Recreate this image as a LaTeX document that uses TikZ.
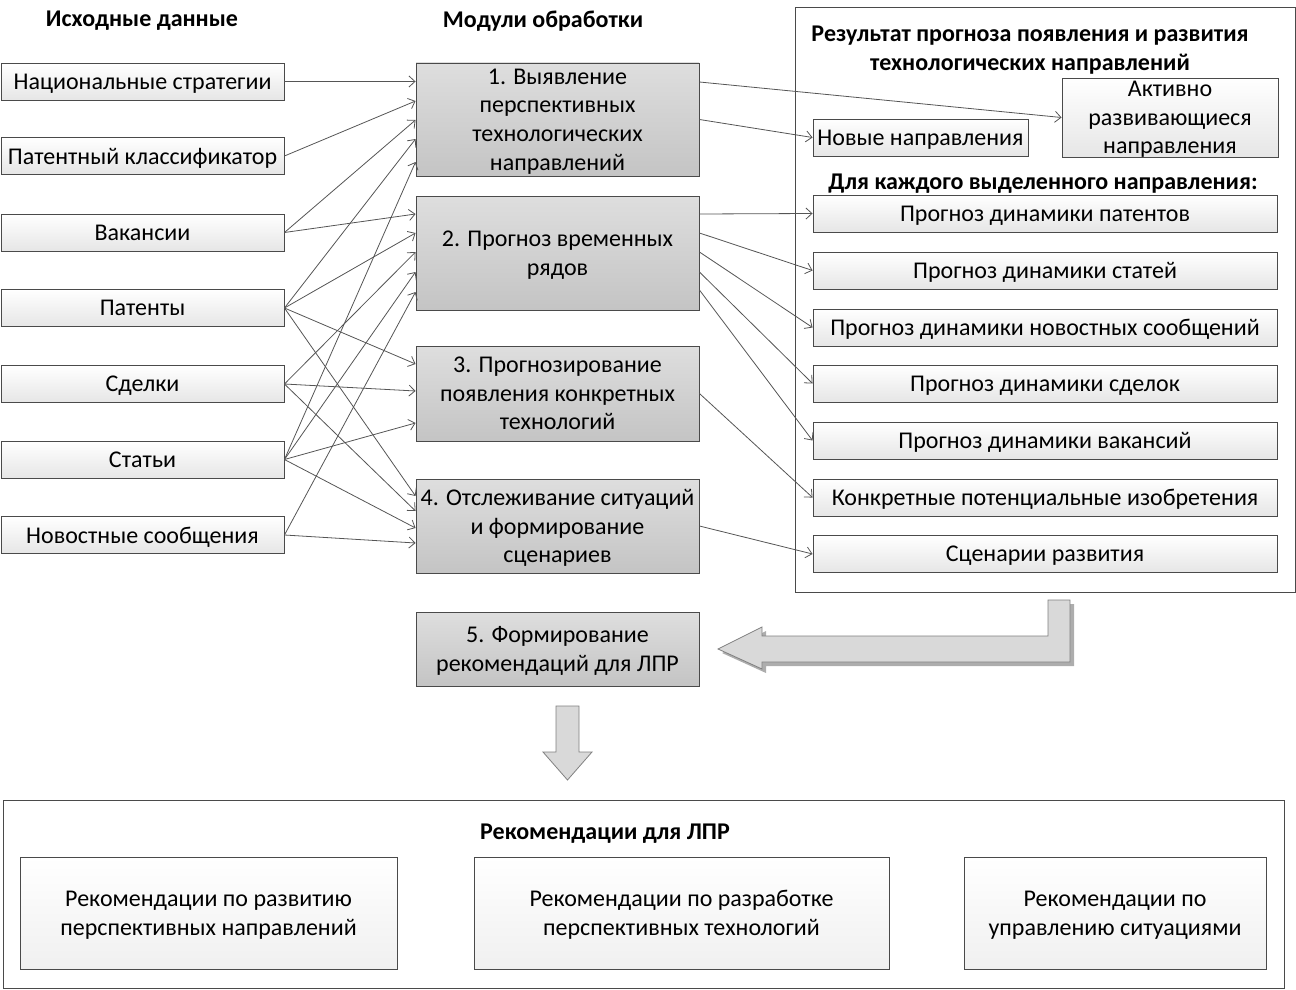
\documentclass[tikz,border=0pt]{standalone}
\usepackage{fontspec}
\setmainfont{Carlito}
\usetikzlibrary{arrows.meta}
\definecolor{boxc}{HTML}{4A4A4A}
\definecolor{linec}{HTML}{555555}
\definecolor{lightg}{HTML}{E6E6E6}
\definecolor{modtop}{HTML}{DEDEDE}
\definecolor{modbot}{HTML}{C4C4C4}
\definecolor{arrfill}{HTML}{D9D9D9}
\definecolor{arrdraw}{HTML}{808080}
\definecolor{shadowc}{HTML}{ADADAD}
\begin{document}
\begin{tikzpicture}[x=1pt,y=-1pt,
  font=\fontsize{24}{28.7}\selectfont,
  every node/.append style={text depth=0pt},
  inbox/.style={draw=boxc, line width=0.9pt, top color=white, bottom color=lightg,
    minimum width=283pt, minimum height=37pt, inner sep=0pt, align=center},
  modbox/.style={draw=boxc, line width=0.9pt, top color=modtop, bottom color=modbot,
    minimum width=283pt, inner sep=0pt, align=center},
  resbox/.style={draw=boxc, line width=0.9pt, top color=white, bottom color=lightg,
    minimum height=37pt, inner sep=0pt, align=center},
  recbox/.style={draw=boxc, line width=0.9pt, top color=white, bottom color=lightg!60,
    minimum height=112pt, inner sep=0pt, align=center},
  frame/.style={draw=boxc, line width=0.9pt, inner sep=0pt},
  head/.style={font=\fontsize{24}{28.7}\selectfont\bfseries, align=center, inner sep=0pt},
  conn/.style={draw=linec, line width=0.8pt, -{Straight Barb[length=6pt,width=11pt]}},
  blockarrow/.style={fill=arrfill, draw=arrdraw, line width=0.8pt, line join=miter}
]
\useasboundingbox (0,0) rectangle (1296,990);

% headings
\node[head] (h1) at (142,19) {Исходные данные};
\node[head] (h2) at (543,19) {Модули обработки};

% input boxes
\node[inbox] (in1) at (142.5,81.5) {Национальные стратегии};
\node[inbox] (in2) at (142.5,156) {Патентный классификатор};
\node[inbox] (in3) at (142.5,232.5) {Вакансии};
\node[inbox] (in4) at (142.5,308) {Патенты};
\node[inbox] (in5) at (142.5,384) {Сделки};
\node[inbox] (in6) at (142.5,459.5) {Статьи};
\node[inbox] (in7) at (142.5,535) {Новостные сообщения};

% modules
\node[modbox, minimum height=113pt] (m1) at (557.5,119.5) {1. Выявление\\перспективных\\технологических\\направлений};
\node[modbox, minimum height=114pt] (m2) at (557.5,253) {2. Прогноз временных\\рядов};
\node[modbox, minimum height=95pt] (m3) at (557.5,393.5) {3. Прогнозирование\\появления конкретных\\технологий};
\node[modbox, minimum height=94pt] (m4) at (557.5,526) {4. Отслеживание ситуаций\\и формирование\\сценариев};
\node[modbox, minimum height=74pt] (m5) at (557.5,649) {5. Формирование\\рекомендаций для ЛПР};

% result frame
\node[frame, minimum width=500pt, minimum height=585pt] (res) at (1045,299.5) {};
\node[head] (rtitle) at (1030,48) {Результат прогноза появления и развития\\технологических направлений};
\node[resbox, minimum width=215pt] (new) at (920.5,137.5) {Новые направления};
\node[resbox, minimum width=216pt, minimum height=79pt] (akt) at (1170,117.5) {Активно\\развивающиеся\\направления};
\node[head] (ftitle) at (1043,182) {Для каждого выделенного направления:};
\node[resbox, minimum width=464pt] (f1) at (1045,213.5) {Прогноз динамики патентов};
\node[resbox, minimum width=464pt] (f2) at (1045,270.5) {Прогноз динамики статей};
\node[resbox, minimum width=464pt] (f3) at (1045,327.5) {Прогноз динамики новостных сообщений};
\node[resbox, minimum width=464pt] (f4) at (1045,383.5) {Прогноз динамики сделок};
\node[resbox, minimum width=464pt] (f5) at (1045,440.5) {Прогноз динамики вакансий};
\node[resbox, minimum width=464pt] (f6) at (1045,497.5) {Конкретные потенциальные изобретения};
\node[resbox, minimum width=464pt] (f7) at (1045,554) {Сценарии развития};

% recommendations
\node[frame, minimum width=1281pt, minimum height=188pt] (rec) at (643.5,894) {};
\node[head] (btitle) at (605,832) {Рекомендации для ЛПР};
\node[recbox, minimum width=377pt] (r1) at (208.5,913) {Рекомендации по развитию\\перспективных направлений};
\node[recbox, minimum width=415pt] (r2) at (681.5,913) {Рекомендации по разработке\\перспективных технологий};
\node[recbox, minimum width=302pt] (r3) at (1115,913) {Рекомендации по\\управлению ситуациями};

% input -> module connectors
\draw[conn] (in1.east) -- (in1.east -| m1.west);
\draw[conn] (in2.east) -- ([yshift=18.5pt]m1.west);
\draw[conn] (in3.east) -- ([yshift=-0.5pt]m1.west);
\draw[conn] (in3.east) -- ([yshift=39pt]m2.west);
\draw[conn] (in4.east) -- ([yshift=-19.5pt]m1.west);
\draw[conn] (in4.east) -- ([yshift=20pt]m2.west);
\draw[conn] (in4.east) -- ([yshift=29.5pt]m3.west);
\draw[conn] (in4.east) -- ([yshift=30pt]m4.west);
\draw[conn] (in5.east) -- ([yshift=1pt]m2.west);
\draw[conn] (in5.east) -- ([yshift=2.5pt]m3.west);
\draw[conn] (in5.east) -- ([yshift=15pt]m4.west);
\draw[conn] (in6.east) -- ([yshift=-42.5pt]m1.west);
\draw[conn] (in6.east) -- ([yshift=-19pt]m2.west);
\draw[conn] (in6.east) -- ([yshift=-29.5pt]m3.west);
\draw[conn] (in6.east) -- ([yshift=-2pt]m4.west);
\draw[conn] (in7.east) -- ([yshift=-39pt]m2.west);
\draw[conn] (in7.east) -- ([yshift=-17pt]m4.west);

% module -> result connectors
\draw[conn] ([yshift=37.5pt]m1.east) -- (akt.west);
\draw[conn] (m1.east) -- (new.west);
\draw[conn] ([yshift=39pt]m2.east) -- (f1.west);
\draw[conn] ([yshift=20pt]m2.east) -- (f2.west);
\draw[conn] ([yshift=1pt]m2.east) -- (f3.west);
\draw[conn] ([yshift=-19pt]m2.east) -- (f4.west);
\draw[conn] ([yshift=-37pt]m2.east) -- (f5.west);
\draw[conn] (m3.east) -- (f6.west);
\draw[conn] (m4.east) -- (f7.west);

% block arrow result -> module 5
\fill[shadowc] (1052,604) -- (1074,604) -- (1074,666) -- (766,666) -- (766,673) -- (722,653) -- (766,631) -- (766,640) -- (1052,640) -- cycle;
\draw[blockarrow] (1048,600) -- (1070,600) -- (1070,662) -- (762,662) -- (762,669) -- (718,649) -- (762,627) -- (762,636) -- (1048,636) -- cycle;

% block arrow module 5 -> recommendations
\draw[blockarrow] (556,706) -- (579,706) -- (579,752) -- (592,752) -- (567.5,780) -- (543,752) -- (556,752) -- cycle;
\end{tikzpicture}
\end{document}
